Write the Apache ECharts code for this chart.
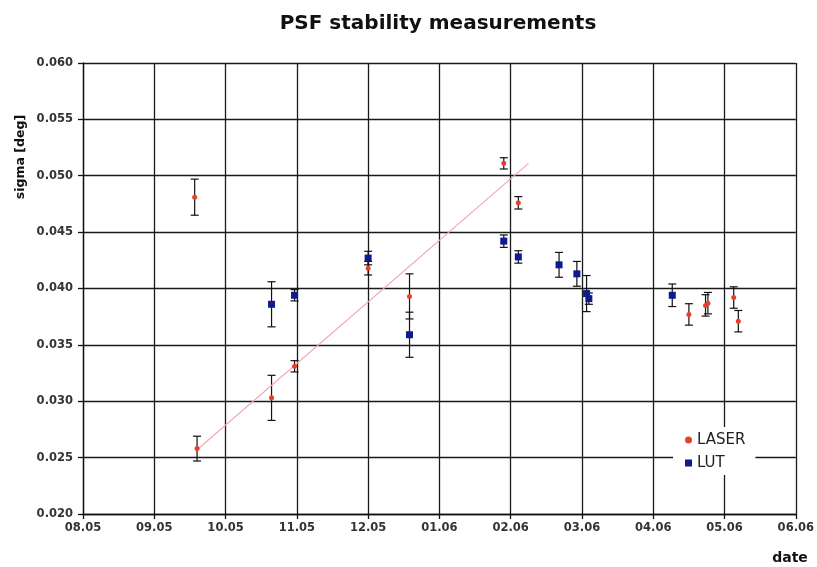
<!DOCTYPE html>
<html>
<head>
<meta charset="utf-8">
<title>PSF stability measurements</title>
<script src="https://cdn.jsdelivr.net/npm/echarts@6/dist/echarts.min.js"></script>
<style>
  html, body { margin: 0; padding: 0; background: #fff; }
  #chart { width: 817px; height: 567px; }
</style>
</head>
<body>
<div id="chart"></div>
<script>
// Month labels along the date axis (one tick per month, Aug 2005 .. Jun 2006)
const tickLabels = ['08.05', '09.05', '10.05', '11.05', '12.05', '01.06',
                    '02.06', '03.06', '04.06', '05.06', '06.06'];

// LASER measurements: date, sigma [deg], error
const laserDates = ['2005-09-18', '2005-09-19', '2005-10-21', '2005-10-31', '2005-12-01',
                    '2005-12-19', '2006-01-29', '2006-02-04', '2006-04-16', '2006-04-23',
                    '2006-04-24', '2006-05-05', '2006-05-07'];
const laserSigma = [0.0481, 0.0258, 0.0303, 0.0331, 0.0418,
                    0.0393, 0.0511, 0.0476, 0.0377, 0.0385,
                    0.0387, 0.0392, 0.0371];
const laserErr   = [0.0016, 0.0011, 0.0020, 0.0005, 0.0006,
                    0.0020, 0.0005, 0.00055, 0.00095, 0.00095,
                    0.00095, 0.00095, 0.00095];

// LUT measurements: date, sigma [deg], error
const lutDates = ['2005-10-21', '2005-10-31', '2005-12-01', '2005-12-19', '2006-01-29',
                  '2006-02-04', '2006-02-20', '2006-02-27', '2006-03-03', '2006-03-04',
                  '2006-04-09'];
const lutSigma = [0.0386, 0.0394, 0.0427, 0.0359, 0.0442,
                  0.0428, 0.0421, 0.0413, 0.03955, 0.0391,
                  0.0394];
const lutErr   = [0.0020, 0.0005, 0.0006, 0.0020, 0.00055,
                  0.00055, 0.0011, 0.0011, 0.0016, 0.0005,
                  0.0010];

// Linear trend of the LASER series (end points)
const trendDates = ['2005-09-19', '2006-02-08'];
const trendSigma = [0.0257, 0.0511];

// Convert a date to a position on the monthly axis (0 = 1 Aug 2005)
function monthPos(s) {
  const [y, m, d] = s.split('-').map(Number);
  const idx = (y - 2005) * 12 + (m - 8);
  const dim = new Date(y, m, 0).getDate();
  return idx + (d - 1) / dim;
}

const laserPts = laserDates.map((d, i) => [monthPos(d), laserSigma[i], laserErr[i]]);
const lutPts = lutDates.map((d, i) => [monthPos(d), lutSigma[i], lutErr[i]]);
const trendPts = trendDates.map((d, i) => [monthPos(d), trendSigma[i]]);

// Vertical error bar with caps
function renderErrorBar(params, api) {
  const x = api.value(0), y = api.value(1), e = api.value(2);
  const top = api.coord([x, y + e]);
  const bot = api.coord([x, y - e]);
  const hw = 4;
  const style = { stroke: '#111', lineWidth: 1.2 };
  return {
    type: 'group',
    children: [
      { type: 'line', shape: { x1: top[0], y1: top[1], x2: bot[0], y2: bot[1] }, style },
      { type: 'line', shape: { x1: top[0] - hw, y1: top[1], x2: top[0] + hw, y2: top[1] }, style },
      { type: 'line', shape: { x1: bot[0] - hw, y1: bot[1], x2: bot[0] + hw, y2: bot[1] }, style }
    ]
  };
}

const FONT = '"DejaVu Sans", Verdana, sans-serif';
const chart = echarts.init(document.getElementById('chart'), null, { renderer: 'canvas' });

chart.setOption({
  animation: false,
  backgroundColor: '#fff',
  title: {
    text: 'PSF stability measurements',
    left: 433,
    textAlign: 'center',
    top: 9,
    textStyle: { fontFamily: FONT, fontSize: 20, fontWeight: 'bold', color: '#111' }
  },
  grid: { left: 83, right: 18, top: 63, bottom: 53, containLabel: false },
  legend: {
    orient: 'vertical',
    left: 673,
    top: 427,
    backgroundColor: '#fff',
    padding: [5, 10, 4, 12],
    itemWidth: 7,
    itemHeight: 7,
    itemGap: 7,
    textStyle: { fontFamily: FONT, fontSize: 15, color: '#222', lineHeight: 16 },
    data: [{ name: 'LASER', icon: 'circle' }, { name: 'LUT', icon: 'rect' }]
  },
  xAxis: {
    type: 'value',
    min: 0,
    max: tickLabels.length - 1,
    interval: 1,
    axisLine: { show: true, lineStyle: { color: '#111', width: 1.3 } },
    axisTick: { show: true, length: 5, lineStyle: { color: '#111', width: 1.3 } },
    splitLine: { show: true, lineStyle: { color: '#1a1a1a', width: 1.3 } },
    axisLabel: {
      margin: 8,
      fontFamily: FONT, fontSize: 11.5, fontWeight: 'bold', color: '#333',
      formatter: v => tickLabels[Math.round(v)] || ''
    }
  },
  yAxis: {
    type: 'value',
    min: 0.020,
    max: 0.060,
    interval: 0.005,
    axisLine: { show: true, lineStyle: { color: '#111', width: 1.3 } },
    axisTick: { show: true, length: 5, lineStyle: { color: '#111', width: 1.3 } },
    splitLine: { show: true, lineStyle: { color: '#1a1a1a', width: 1.3 } },
    axisLabel: {
      margin: 10,
      fontFamily: FONT, fontSize: 11.5, fontWeight: 'bold', color: '#333',
      formatter: v => v.toFixed(3)
    }
  },
  graphic: [
    {
      type: 'text',
      x: 21, y: 157,
      rotation: Math.PI / 2,
      style: {
        text: 'sigma [deg]', fontFamily: FONT, fontSize: 12.5, fontWeight: 'bold',
        fill: '#111', textAlign: 'center', textVerticalAlign: 'middle'
      }
    },
    {
      type: 'text',
      x: 790, y: 558,
      style: {
        text: 'date', fontFamily: FONT, fontSize: 14, fontWeight: 'bold',
        fill: '#111', textAlign: 'center', textVerticalAlign: 'middle'
      }
    }
  ],
  series: [
    {
      name: 'LASER err', type: 'custom', renderItem: renderErrorBar,
      data: laserPts, z: 2, silent: true
    },
    {
      name: 'LUT err', type: 'custom', renderItem: renderErrorBar,
      data: lutPts, z: 2, silent: true
    },
    {
      name: 'trend', type: 'line', data: trendPts, symbol: 'none', z: 3,
      lineStyle: { color: '#f2a6b8', width: 1.2 }, silent: true
    },
    {
      name: 'LASER', type: 'scatter', data: laserPts, symbol: 'circle', symbolSize: 5,
      itemStyle: { color: '#e5412a', opacity: 1 }, z: 4
    },
    {
      name: 'LUT', type: 'scatter', data: lutPts, symbol: 'rect', symbolSize: 7,
      itemStyle: { color: '#0f1a8c', opacity: 1 }, z: 4
    }
  ]
});
</script>
</body>
</html>
